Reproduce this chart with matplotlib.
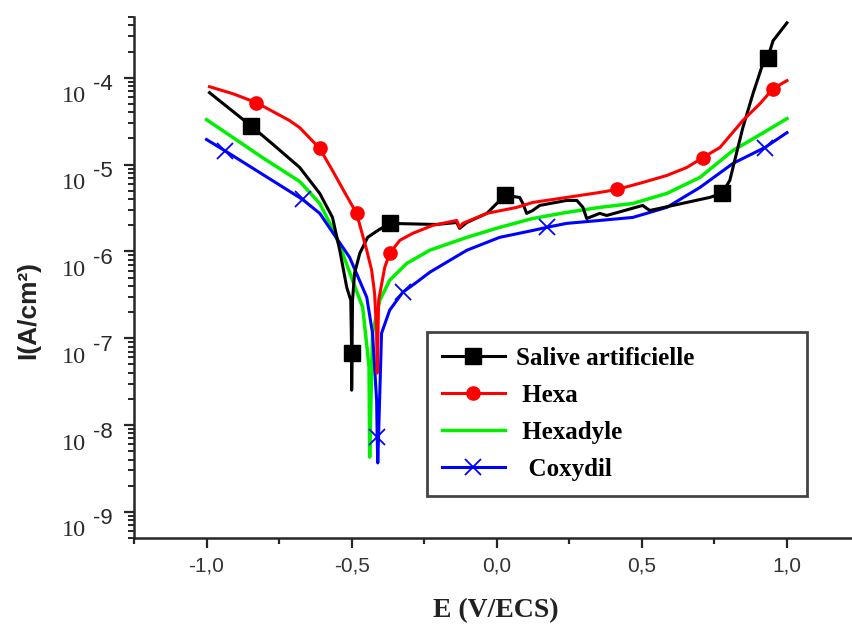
import matplotlib
matplotlib.use("Agg")
import matplotlib.pyplot as plt
from matplotlib.lines import Line2D
from matplotlib.ticker import FixedLocator, LogLocator, NullFormatter

# Potentiodynamic polarisation curves: current density vs potential
E_salive = [-0.990, -0.848, -0.766, -0.679, -0.610, -0.566, -0.541, -0.517, -0.503, -0.500,
            -0.500, -0.497, -0.490, -0.472, -0.445, -0.410, -0.369, -0.207, -0.138, -0.128,
            -0.103, -0.034, 0.000, 0.028, 0.079, 0.090, 0.103, 0.124, 0.148, 0.241,
            0.276, 0.297, 0.310, 0.355, 0.379, 0.503, 0.517, 0.528, 0.734, 0.776,
            0.803, 0.848, 0.883, 0.917, 0.934, 0.952, 1.000]
I_salive = [6.73e-5, 2.81e-5, 1.65e-5, 9.25e-6, 4.65e-6, 2.46e-6, 1.03e-6, 3.86e-7, 2.73e-7, 6.73e-8,
            2.52e-8, 2.73e-7, 5.58e-7, 9.48e-7, 1.45e-6, 1.74e-6, 2.10e-6, 2.04e-6, 2.15e-6, 1.84e-6,
            2.15e-6, 2.74e-6, 3.56e-6, 4.41e-6, 4.18e-6, 3.56e-6, 2.74e-6, 2.96e-6, 3.38e-6, 3.86e-6,
            3.86e-6, 3.21e-6, 2.39e-6, 2.74e-6, 2.59e-6, 3.38e-6, 3.12e-6, 2.96e-6, 4.18e-6, 4.65e-6,
            6.55e-6, 2.66e-5, 6.55e-5, 1.45e-4, 1.70e-4, 2.66e-4, 4.28e-4]
mk_salive = [1, 9, 16, 23, 39, 44]

E_hexa = [-0.990, -0.910, -0.828, -0.714, -0.679, -0.610, -0.566, -0.524, -0.483, -0.448,
          -0.431, -0.421, -0.414, -0.412, -0.407, -0.386, -0.369, -0.334, -0.290, -0.221,
          -0.138, -0.128, -0.117, -0.034, 0.069, 0.124, 0.241, 0.355, 0.414, 0.503,
          0.586, 0.655, 0.710, 0.769, 0.848, 0.907, 0.952, 1.000]
I_hexa = [7.88e-5, 6.55e-5, 5.16e-5, 3.21e-5, 2.66e-5, 1.53e-5, 8.53e-6, 4.77e-6, 2.74e-6, 1.03e-6,
          6.05e-7, 3.29e-7, 1.24e-7, 3.96e-8, 2.73e-7, 6.55e-7, 9.48e-7, 1.34e-6, 1.61e-6, 1.99e-6,
          2.27e-6, 1.89e-6, 2.10e-6, 2.74e-6, 3.21e-6, 3.66e-6, 4.18e-6, 4.77e-6, 5.16e-6, 6.21e-6,
          7.48e-6, 9.25e-6, 1.20e-5, 1.57e-5, 3.21e-5, 5.02e-5, 7.48e-5, 9.25e-5]
mk_hexa = [2, 5, 8, 16, 28, 32, 36]

E_hexadyle = [-1.000, -0.807, -0.679, -0.610, -0.566, -0.531, -0.497, -0.462, -0.440, -0.438,
              -0.428, -0.403, -0.369, -0.310, -0.231, -0.103, 0.010, 0.124, 0.241, 0.355,
              0.469, 0.586, 0.700, 0.814, 0.931, 1.000]
I_hexadyle = [3.29e-5, 1.20e-5, 6.38e-6, 3.56e-6, 1.84e-6, 9.48e-7, 4.65e-7, 2.27e-7, 4.65e-8, 4.28e-9,
              1.14e-7, 2.73e-7, 4.65e-7, 7.27e-7, 1.03e-6, 1.45e-6, 1.89e-6, 2.39e-6, 2.81e-6, 3.21e-6,
              3.56e-6, 4.65e-6, 7.10e-6, 1.45e-5, 2.46e-5, 3.38e-5]

E_coxydil = [-1.000, -0.938, -0.669, -0.610, -0.507, -0.448, -0.428, -0.414, -0.412, -0.410,
             -0.397, -0.369, -0.324, -0.276, -0.231, -0.103, 0.010, 0.124, 0.172, 0.241,
             0.355, 0.469, 0.586, 0.700, 0.814, 0.924, 1.000]
I_coxydil = [1.94e-5, 1.45e-5, 3.96e-6, 2.74e-6, 8.53e-7, 2.96e-7, 1.14e-7, 1.94e-8, 7.27e-9, 3.66e-9,
             1.14e-7, 2.10e-7, 3.38e-7, 4.41e-7, 5.74e-7, 1.03e-6, 1.45e-6, 1.74e-6, 1.89e-6, 2.10e-6,
             2.27e-6, 2.46e-6, 3.21e-6, 5.44e-6, 1.03e-5, 1.57e-5, 2.33e-5]
mk_coxydil = [1, 2, 8, 12, 18, 25]

labels = ["Salive artificielle", " Hexa", " Hexadyle", "  Coxydil"]
x_ticks = [-1.0, -0.5, 0.0, 0.5, 1.0]
x_ticklabels = ["-1,0", "-0,5", "0,0", "0,5", "1,0"]
x_minor = [-1.25, -0.75, -0.25, 0.25, 0.75, 1.25]
y_decades = [-4, -5, -6, -7, -8, -9]

W, H = 852, 635
fig = plt.figure(figsize=(W / 100, H / 100), dpi=100)
ax = fig.add_axes([134 / W, 97 / H, 725.5 / W, 521 / H])
ax.set_yscale("log")
ax.set_xlim(-1.25, 1.25)
ax.set_ylim(5e-10, 5e-4)

axis_col = "#262626"
for s in ("top", "right"):
    ax.spines[s].set_visible(False)
for s in ("left", "bottom"):
    ax.spines[s].set_linewidth(1.8)
    ax.spines[s].set_color(axis_col)

lw = 2.2
ax.plot(E_hexadyle, I_hexadyle, color="#00f000", lw=2.5, zorder=2)
ax.plot(E_coxydil, I_coxydil, color="#0000ff", lw=lw, marker="x", ms=12, mew=1.3,
        markevery=mk_coxydil, zorder=3)
ax.plot(E_salive, I_salive, color="black", lw=lw, marker="s", ms=12,
        markevery=mk_salive, zorder=4)
ax.plot(E_hexa, I_hexa, color="#ff0000", lw=lw, marker="o", ms=9.5,
        markevery=mk_hexa, zorder=5)

# x axis
ax.xaxis.set_major_locator(FixedLocator(x_ticks))
ax.set_xticklabels(x_ticklabels, fontfamily="Liberation Sans", fontsize=15, color="#333333")
ax.xaxis.set_minor_locator(FixedLocator(x_minor))
ax.tick_params(axis="x", which="major", length=7, width=1.6, color=axis_col, pad=6)
ax.tick_params(axis="x", which="minor", length=4.5, width=1.6, color=axis_col)

# y axis: decade labels written as "10" with a raised exponent
ax.yaxis.set_major_locator(LogLocator(base=10, numticks=20))
ax.yaxis.set_minor_locator(LogLocator(base=10, subs=range(2, 10), numticks=20))
ax.yaxis.set_major_formatter(NullFormatter())
ax.yaxis.set_minor_formatter(NullFormatter())
ax.tick_params(axis="y", which="major", length=7, width=1.6, color=axis_col)
ax.tick_params(axis="y", which="minor", length=4.5, width=1.4, color=axis_col)
for k in y_decades:
    ax.annotate("10", xy=(0, 10.0 ** k), xycoords=("axes fraction", "data"),
                xytext=(-60, -19), textcoords="offset pixels", ha="center", va="center",
                fontfamily="Liberation Serif", fontsize=17.5, color="#2a2a2a",
                annotation_clip=False)
    ax.annotate(str(k), xy=(0, 10.0 ** k), xycoords=("axes fraction", "data"),
                xytext=(-41, -7), textcoords="offset pixels", ha="left", va="center",
                fontfamily="Liberation Sans", fontsize=16, color="#2a2a2a",
                annotation_clip=False)

fig.text(28 / W, 1 - 310 / H, "I(A/cm²)", rotation=90, ha="center", va="center",
         fontfamily="Liberation Sans", fontweight="bold", fontsize=19, color="#222222")
fig.text(496 / W, 1 - 611 / H, "E (V/ECS)", ha="center", va="center",
         fontfamily="Liberation Serif", fontweight="bold", fontsize=20, color="#222222")

handles = [
    Line2D([], [], color="black", lw=lw, marker="s", ms=12),
    Line2D([], [], color="#ff0000", lw=lw, marker="o", ms=9.5),
    Line2D([], [], color="#00f000", lw=2.5),
    Line2D([], [], color="#0000ff", lw=lw, marker="x", ms=12, mew=1.3),
]
leg = ax.legend(handles, labels, loc="upper left",
                bbox_to_anchor=(0.4039, 0.0845, 0.5237, 0.3109), mode="expand",
                borderaxespad=0, frameon=True, fancybox=False, framealpha=1,
                edgecolor="#444444", handlelength=2.5, handletextpad=0.44,
                labelspacing=0.56, borderpad=0.6,
                prop={"family": "Liberation Serif", "weight": "bold", "size": 18})
leg.get_frame().set_linewidth(2.0)

fig.savefig("out.png", dpi=100)
